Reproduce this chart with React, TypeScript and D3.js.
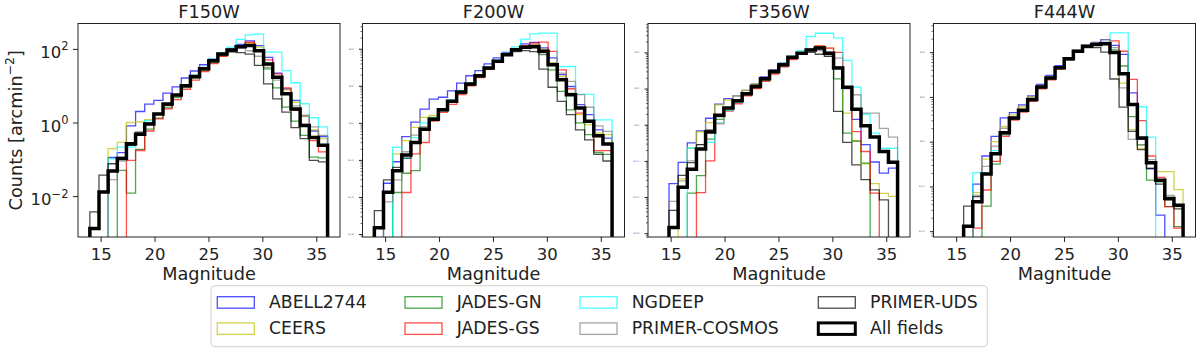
import React, { useRef, useEffect } from 'react';
import * as d3 from 'd3';

const N = null;

// histogram bins (magnitude)
const BIN_START = 14.0;
const BIN_WIDTH = 0.848;
const N_BINS = 26;

const filters = ['F150W', 'F200W', 'F356W', 'F444W'];
const fields = ['ABELL2744', 'CEERS', 'JADES-GN', 'JADES-GS', 'NGDEEP', 'PRIMER-COSMOS', 'PRIMER-UDS', 'All fields'];

// log10(counts / arcmin^2) per bin, null = empty bin
const f150wAbell2744 = [N, N, -0.95, -0.82, -0.09, 0.30, 0.50, 0.60, 0.80, 0.97, 1.21, 1.40, 1.57, 1.72, 1.88, 2.00, 2.12, 2.22, 2.09, 1.77, 1.34, 0.91, 0.60, 0.17, -0.23, -0.38];
const f150wCeers = [N, N, -0.71, -0.54, 0.00, 0.02, 0.08, 0.24, 0.50, 0.76, 1.02, 1.27, 1.47, 1.68, 1.86, 1.98, 2.08, 2.15, 2.05, 1.55, 1.20, 0.89, 0.55, 0.17, -0.20, -0.44];
const f150wJadesGn = [N, N, N, -1.30, -1.92, -0.73, -0.18, 0.12, 0.40, 0.68, 0.95, 1.20, 1.42, 1.63, 1.81, 1.93, 2.04, 2.08, 1.95, 1.46, 0.94, 0.42, 0.04, -0.35, -0.94, -0.96];
const f150wJadesGs = [N, N, N, N, -1.03, -0.76, -0.23, 0.10, 0.37, 0.62, 0.90, 1.15, 1.38, 1.60, 1.80, 1.94, 2.08, 2.18, 1.97, 1.70, 1.32, 0.94, 0.33, -0.05, -0.49, -0.80];
const f150wNgdeep = [N, N, -0.98, -0.67, -0.67, -0.35, 0.05, 0.25, 0.50, 0.76, 1.03, 1.28, 1.50, 1.72, 1.90, 2.05, 2.26, 2.38, 2.40, 1.91, 1.91, 1.41, 1.08, 0.51, 0.13, -0.12];
const f150wCosmos = [N, N, -1.55, -1.05, -0.62, -0.30, -0.05, 0.22, 0.48, 0.74, 1.01, 1.26, 1.48, 1.69, 1.87, 1.99, 2.02, 1.95, 1.80, 1.50, 1.15, 0.78, 0.45, 0.20, -0.12, -0.35];
const f150wUds = [-2.43, -1.43, -1.12, -0.95, -0.62, -0.26, -0.02, 0.22, 0.46, 0.73, 1.00, 1.24, 1.46, 1.67, 1.84, 1.92, 1.90, 1.86, 1.55, 1.05, 0.64, 0.28, -0.14, -0.44, -1.03, -1.07];
const f150wAll = [-2.88, -1.89, -1.32, -0.98, -0.58, -0.32, -0.04, 0.23, 0.50, 0.75, 1.00, 1.25, 1.46, 1.68, 1.86, 1.97, 2.06, 2.09, 1.95, 1.59, 1.23, 0.78, 0.37, -0.08, -0.41, -0.62];

const f200wAbell2744 = [N, -1.63, -1.05, -0.37, 0.02, 0.37, 0.64, 0.69, 0.86, 1.07, 1.27, 1.41, 1.59, 1.75, 1.90, 1.99, 2.13, 2.17, 2.02, 1.75, 1.30, 0.98, 0.49, 0.22, -0.19, -0.41];
const f200wCeers = [N, N, -0.84, -0.48, -0.12, 0.15, 0.20, 0.37, 0.60, 0.84, 1.06, 1.28, 1.49, 1.67, 1.85, 1.98, 2.06, 2.10, 1.98, 1.62, 1.25, 0.80, 0.22, -0.05, -0.28, -0.32];
const f200wJadesGn = [N, N, -1.88, -1.36, -1.29, -0.15, 0.15, 0.33, 0.55, 0.80, 1.02, 1.24, 1.45, 1.63, 1.82, 1.95, 2.03, 2.05, 1.84, 1.43, 0.85, 0.35, 0.00, -0.32, -0.80, -0.85];
const f200wJadesGs = [N, N, N, -1.88, -0.84, -0.53, 0.05, 0.28, 0.50, 0.76, 1.00, 1.22, 1.44, 1.63, 1.82, 1.96, 2.08, 2.15, 2.18, 1.93, 1.43, 0.92, 0.26, 0.01, -0.75, -0.75];
const f200wNgdeep = [N, N, -0.66, -0.96, -0.40, 0.00, 0.12, 0.38, 0.62, 0.86, 1.08, 1.30, 1.50, 1.70, 1.88, 2.05, 2.26, 2.40, 2.42, 2.42, 1.52, 1.52, 0.77, 0.77, 0.08, 0.08];
const f200wCosmos = [N, -2.13, -1.54, -0.78, -0.33, -0.10, 0.10, 0.34, 0.58, 0.82, 1.05, 1.27, 1.48, 1.66, 1.84, 1.96, 2.02, 2.00, 1.85, 1.61, 1.34, 1.12, 0.76, 0.42, -0.08, -0.23];
const f200wUds = [-2.37, -1.54, -1.20, -0.95, -0.55, -0.20, 0.07, 0.33, 0.56, 0.80, 1.03, 1.25, 1.46, 1.64, 1.82, 1.92, 1.95, 1.92, 1.45, 0.96, 0.58, 0.22, -0.19, -0.46, -0.85, -1.03];
const f200wAll = [-2.83, -1.87, -1.29, -0.87, -0.53, -0.17, 0.10, 0.35, 0.58, 0.83, 1.05, 1.27, 1.48, 1.66, 1.84, 1.97, 2.04, 2.06, 1.93, 1.57, 1.16, 0.76, 0.40, 0.04, -0.35, -0.57];

const f356wAbell2744 = [N, -1.63, -1.04, -0.50, -0.17, 0.18, 0.57, 0.72, 0.80, 0.95, 1.12, 1.32, 1.52, 1.70, 1.88, 1.99, 2.10, 2.15, 2.00, 1.60, 1.00, 0.15, -0.55, -1.03, -1.34, -1.20];
const f356wCeers = [N, N, -1.50, -0.65, -0.20, 0.06, 0.55, 0.68, 0.80, 0.95, 1.12, 1.30, 1.50, 1.68, 1.87, 1.99, 2.10, 2.18, 2.12, 1.60, 0.32, -0.46, -1.08, -1.63, -1.90, -1.98];
const f356wJadesGn = [N, N, N, -1.89, -1.41, -0.40, 0.15, 0.40, 0.62, 0.82, 1.02, 1.22, 1.42, 1.62, 1.82, 1.95, 2.05, 2.10, 1.95, 1.27, -0.23, -0.45, -1.06, N, N, N];
const f356wJadesGs = [N, N, N, N, -1.88, -1.00, 0.03, 0.38, 0.58, 0.80, 1.00, 1.20, 1.40, 1.60, 1.80, 1.95, 2.08, 2.18, 2.12, 2.00, 1.04, -0.19, -0.74, -1.89, N, N];
const f356wNgdeep = [N, N, N, -0.65, -0.65, -0.49, 0.05, 0.40, 0.62, 0.85, 1.06, 1.28, 1.48, 1.70, 1.90, 2.05, 2.44, 2.53, 2.53, 2.40, 1.78, 1.04, 0.29, -0.23, -0.65, -0.65];
const f356wCosmos = [N, -2.12, -1.55, -1.00, -0.55, -0.15, 0.22, 0.45, 0.65, 0.85, 1.06, 1.27, 1.47, 1.67, 1.86, 1.98, 2.05, 2.05, 1.90, 1.84, 1.01, 0.83, 0.32, 0.32, -0.10, -0.34];
const f356wUds = [N, -2.37, -1.40, -1.05, -0.55, -0.15, 0.24, 0.45, 0.65, 0.85, 1.05, 1.26, 1.46, 1.65, 1.85, 1.95, 2.00, 1.95, 1.89, 0.37, -0.49, -1.11, -1.52, -1.80, -2.08, N];
const f356wAll = [N, -2.84, -1.73, -1.23, -0.67, -0.20, 0.26, 0.46, 0.66, 0.86, 1.06, 1.27, 1.47, 1.66, 1.87, 1.98, 2.07, 2.12, 1.98, 1.57, 1.04, 0.43, -0.03, -0.34, -0.74, -1.04];

const f444wAbell2744 = [N, N, N, -0.95, -0.32, 0.12, 0.53, 0.65, 0.82, 1.02, 1.28, 1.48, 1.70, 1.87, 2.04, 2.15, 2.22, 2.28, 2.15, 1.95, 1.09, 0.05, -0.60, -1.64, N, N];
const f444wCeers = [N, N, N, -1.14, -0.39, 0.00, 0.34, 0.60, 0.78, 1.00, 1.25, 1.45, 1.67, 1.87, 2.04, 2.14, 2.20, 2.18, 2.00, 1.31, 0.27, -0.15, -0.45, -0.67, -0.67, -1.07];
const f444wJadesGn = [N, N, N, N, -1.44, -0.50, 0.15, 0.50, 0.68, 0.92, 1.20, 1.40, 1.63, 1.83, 2.00, 2.12, 2.17, 2.18, 2.05, 1.69, 0.56, -0.07, -0.86, -0.90, -1.45, -1.90];
const f444wJadesGs = [N, N, N, -1.93, -1.08, -0.44, 0.12, 0.48, 0.66, 0.90, 1.18, 1.38, 1.62, 1.83, 2.00, 2.12, 2.18, 2.22, 2.25, 2.02, 1.39, 0.47, -0.32, -0.80, -1.45, -1.93];
const f444wNgdeep = [N, N, N, -0.69, -0.69, -0.20, 0.18, 0.52, 0.70, 0.94, 1.22, 1.42, 1.65, 1.85, 2.02, 2.13, 2.18, 2.22, 2.43, 2.43, 0.83, 0.78, 0.10, N, N, N];
const f444wCosmos = [N, N, N, -1.20, -0.55, -0.10, 0.30, 0.55, 0.72, 0.95, 1.22, 1.42, 1.65, 1.85, 2.02, 2.13, 2.20, 2.28, 2.10, 1.20, 0.05, -0.07, -0.40, -0.86, -1.20, -1.45];
const f444wUds = [N, N, -1.44, -1.23, -0.72, -0.27, 0.20, 0.53, 0.70, 0.94, 1.22, 1.42, 1.65, 1.85, 2.02, 2.10, 2.10, 2.00, 1.40, 0.77, 0.23, -0.18, -0.60, -0.95, -1.30, -1.50];
const f444wAll = [N, N, -1.89, -1.34, -0.72, -0.27, 0.20, 0.53, 0.70, 0.94, 1.22, 1.42, 1.65, 1.85, 2.02, 2.13, 2.17, 2.19, 1.99, 1.52, 0.83, 0.08, -0.47, -0.86, -1.27, -1.42];

const panelSeries = [
  [f150wAbell2744, f150wCeers, f150wJadesGn, f150wJadesGs, f150wNgdeep, f150wCosmos, f150wUds, f150wAll],
  [f200wAbell2744, f200wCeers, f200wJadesGn, f200wJadesGs, f200wNgdeep, f200wCosmos, f200wUds, f200wAll],
  [f356wAbell2744, f356wCeers, f356wJadesGn, f356wJadesGs, f356wNgdeep, f356wCosmos, f356wUds, f356wAll],
  [f444wAbell2744, f444wCeers, f444wJadesGn, f444wJadesGs, f444wNgdeep, f444wCosmos, f444wUds, f444wAll],
];

// axis limits (magnitude, log10 counts)
const xLimits = [12.9, 37.2];
const yLimitsLog = [[-3.11, 2.69], [-3.08, 2.68], [-3.105, 2.80], [-2.13, 2.64]];
const xTicks = [15, 20, 25, 30, 35];

// styles
const fieldColors = ['blue', '#bfbf00', 'green', 'red', 'cyan', 'grey', 'black', 'black'];
const fieldAlpha = [0.7, 0.7, 0.7, 0.7, 0.7, 0.7, 0.7, 1];
const fieldWidth = [1.3, 1.3, 1.3, 1.3, 1.3, 1.3, 1.3, 3.5];

const FONT = 'DejaVu Sans, sans-serif';
const panelLeft = [78, 362.5, 648, 933.5];
const panelW = 262;
const plotTop = 23.5;
const plotBottom = 237;

const App = () => {
  const ref = useRef<SVGSVGElement>(null);

  useEffect(() => {
    document.body.style.margin = '0';
    const svg = d3.select(ref.current);
    svg.selectAll('*').remove();

    const edges = d3.range(N_BINS + 1).map((i) => BIN_START + i * BIN_WIDTH);

    filters.forEach((filter, p) => {
      const left = panelLeft[p];
      const x = d3.scaleLinear().domain(xLimits).range([left, left + panelW]);
      const y = d3.scaleLog()
        .domain([10 ** yLimitsLog[p][0], 10 ** yLimitsLog[p][1]])
        .range([plotBottom, plotTop]);

      const clipId = 'clip-' + p;
      svg.append('clipPath').attr('id', clipId)
        .append('rect')
        .attr('x', left).attr('y', plotTop)
        .attr('width', panelW).attr('height', plotBottom - plotTop);

      const lines = svg.append('g').attr('clip-path', `url(#${clipId})`);
      const base = plotBottom + 20;

      panelSeries[p].forEach((vals, s) => {
        const pts: [number, number][] = [[x(edges[0]), base]];
        vals.forEach((v, i) => {
          const yy = v == null ? base : y(10 ** v);
          pts.push([x(edges[i]), yy], [x(edges[i + 1]), yy]);
        });
        pts.push([x(edges[N_BINS]), base]);
        lines.append('path')
          .attr('d', d3.line()(pts))
          .attr('fill', 'none')
          .attr('stroke', fieldColors[s])
          .attr('stroke-opacity', fieldAlpha[s])
          .attr('stroke-width', fieldWidth[s])
          .attr('stroke-linejoin', 'miter');
      });

      // frame
      svg.append('rect')
        .attr('x', left).attr('y', plotTop)
        .attr('width', panelW).attr('height', plotBottom - plotTop)
        .attr('fill', 'none').attr('stroke', '#222').attr('stroke-width', 1);

      // x axis
      const xAxis = svg.append('g')
        .attr('transform', `translate(0,${plotBottom})`)
        .call(d3.axisBottom(x).tickValues(xTicks).tickSize(5).tickPadding(6.3));
      xAxis.select('.domain').remove();
      xAxis.selectAll('line').attr('stroke', '#222');
      xAxis.selectAll('text')
        .attr('font-family', FONT).attr('font-size', 16.5).attr('fill', '#222');

      // y axis
      const lo = Math.ceil(yLimitsLog[p][0]);
      const hi = Math.floor(yLimitsLog[p][1]);
      const decades = d3.range(lo, hi + 1);
      const majors = p === 0 ? decades.filter((d) => d % 2 === 0) : decades;
      const minors: number[] = [];
      if (p > 0) {
        d3.range(lo - 1, hi + 1).forEach((d) => {
          d3.range(2, 10).forEach((k) => {
            const v = k * 10 ** d;
            if (v > 10 ** yLimitsLog[p][0] && v < 10 ** yLimitsLog[p][1]) minors.push(v);
          });
        });
      }
      const yAxis = svg.append('g')
        .attr('transform', `translate(${left},0)`)
        .call(d3.axisLeft(y).tickValues(majors.map((d) => 10 ** d))
          .tickSize(p === 0 ? 5 : 3.5).tickFormat(() => ''));
      yAxis.select('.domain').remove();
      yAxis.selectAll('line').attr('stroke', '#222');
      if (minors.length) {
        const yMinor = svg.append('g')
          .attr('transform', `translate(${left},0)`)
          .call(d3.axisLeft(y).tickValues(minors).tickSize(2).tickFormat(() => ''));
        yMinor.select('.domain').remove();
        yMinor.selectAll('line').attr('stroke', '#222').attr('stroke-width', 0.7);
      }

      majors.forEach((d) => {
        const yy = y(10 ** d);
        if (p === 0) {
          const t = svg.append('text')
            .attr('x', left - 9.5).attr('y', yy + 9)
            .attr('text-anchor', 'end')
            .attr('font-family', FONT).attr('font-size', 16.5).attr('fill', '#222');
          t.append('tspan').text('10');
          t.append('tspan').attr('dy', -7.5).attr('font-size', 11.5)
            .text(d < 0 ? '\u2212' + Math.abs(d) : String(d));
        } else {
          // labels of the other panels are drawn at a tiny size
          svg.append('text')
            .attr('x', left - 9).attr('y', yy + 0.8)
            .attr('text-anchor', 'end')
            .attr('font-family', FONT).attr('font-size', 2.5).attr('fill', '#444')
            .text('10' + d);
        }
      });

      // title & x label
      svg.append('text')
        .attr('x', left + panelW / 2).attr('y', 18.3)
        .attr('text-anchor', 'middle')
        .attr('font-family', FONT).attr('font-size', 17.7).attr('fill', '#222')
        .text(filter);
      svg.append('text')
        .attr('x', left + panelW / 2).attr('y', 280)
        .attr('text-anchor', 'middle')
        .attr('font-family', FONT).attr('font-size', 17.7).attr('fill', '#222')
        .text('Magnitude');
    });

    // y label
    const yl = svg.append('text')
      .attr('transform', `translate(21.5,${(plotTop + plotBottom) / 2}) rotate(-90)`)
      .attr('text-anchor', 'middle')
      .attr('font-family', FONT).attr('font-size', 17.7).attr('fill', '#222');
    yl.append('tspan').text('Counts [arcmin');
    yl.append('tspan').attr('dy', -7.5).attr('font-size', 12.4).text('\u22122');
    yl.append('tspan').attr('dy', 7.5).text(']');

    // legend
    const legend = svg.append('g');
    legend.append('rect')
      .attr('x', 211).attr('y', 285.7).attr('width', 776.3).attr('height', 61)
      .attr('rx', 4).attr('fill', 'white').attr('fill-opacity', 0.8)
      .attr('stroke', '#d0d0d0').attr('stroke-width', 1);
    const colX = [217.3, 405, 580, 818.3];
    const rowY = [296.7, 322.9];
    fields.forEach((name, i) => {
      const c = Math.floor(i / 2);
      const r = i % 2;
      legend.append('rect')
        .attr('x', colX[c]).attr('y', rowY[r])
        .attr('width', 37).attr('height', 11.5)
        .attr('fill', 'none')
        .attr('stroke', fieldColors[i])
        .attr('stroke-opacity', fieldAlpha[i])
        .attr('stroke-width', i === 7 ? 3 : 1.3);
      legend.append('text')
        .attr('x', colX[c] + 51.7).attr('y', rowY[r] + 10.8)
        .attr('font-family', FONT).attr('font-size', 17.3).attr('fill', '#222')
        .text(name);
    });
  }, []);

  return (
    <div>
      <svg ref={ref} width={1200} height={351} style={{ display: 'block', background: 'white' }} />
    </div>
  );
};

export default App;
